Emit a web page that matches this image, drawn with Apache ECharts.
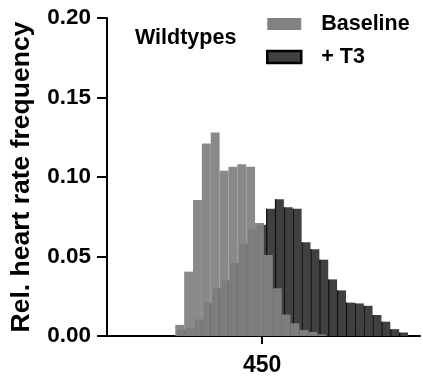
<!DOCTYPE html>
<html>
<head>
<meta charset="utf-8">
<script src="https://cdn.jsdelivr.net/npm/echarts@6/dist/echarts.min.js"></script>
<style>html,body{margin:0;padding:0;background:#fff;}#c{width:423px;height:377px;}</style>
</head>
<body>
<div id="c"></div>
<script>
// Histogram bins (left edges, bpm) and bin width
const binWidth = 10;
const baselineBins = [352, 362, 372, 382, 392, 402, 412, 422, 432, 442, 452, 462, 472, 482, 492, 502, 512];
const baselineFreq = [0.007, 0.0405, 0.0855, 0.121, 0.128, 0.104, 0.1065, 0.108, 0.1065, 0.071, 0.051, 0.030, 0.0135, 0.008, 0.0038, 0.0025, 0.001];
const t3Bins = [354.5, 364.5, 374.5, 384.5, 394.5, 404.5, 414.5, 424.5, 434.5, 444.5, 454.5, 464.5, 474.5, 484.5, 494.5, 504.5, 514.5, 524.5, 534.5, 544.5, 554.5, 564.5, 574.5, 584.5, 594.5, 604.5];
const t3Freq = [0.004, 0.005, 0.0105, 0.021, 0.030, 0.035, 0.046, 0.058, 0.067, 0.070, 0.080, 0.086, 0.081, 0.080, 0.059, 0.0545, 0.048, 0.0356, 0.0287, 0.021, 0.0205, 0.019, 0.0132, 0.009, 0.0043, 0.0022];
const xTickValues = [450];
const yTickLabels = ['0.00', '0.05', '0.10', '0.15', '0.20'];
const seriesNames = ['Baseline', '+ T3'];
const groupLabel = 'Wildtypes';
const yAxisTitle = 'Rel. heart rate frequency';

const FONT = "'Liberation Sans', Arial, sans-serif";
const baseColor = '#828282';
const t3Color = '#404040';

function toData(bins, freq) {
  return bins.map((b, i) => [b, b + binWidth, freq[i]]);
}

function makeRender(isDark) {
  return function (params, api) {
    const x0 = api.value(0), x1 = api.value(1), v = api.value(2);
    const p0 = api.coord([x0, 0]);
    const p1 = api.coord([x1, v]);
    const rect = {
      type: 'rect',
      shape: { x: p0[0], y: p1[1], width: p1[0] - p0[0], height: p0[1] - p1[1] },
      style: { fill: isDark ? t3Color : baseColor, opacity: isDark ? 1 : 0.94 }
    };
    if (!isDark) return rect;
    return {
      type: 'group',
      children: [
        rect,
        { type: 'line', shape: { x1: p0[0] + 0.5, y1: p1[1], x2: p0[0] + 0.5, y2: p0[1] }, style: { stroke: '#111', lineWidth: 1.3 } }
      ]
    };
  };
}

const chart = echarts.init(document.getElementById('c'), null, { renderer: 'canvas' });
chart.setOption({
  animation: false,
  backgroundColor: '#fff',
  textStyle: { fontFamily: FONT },
  grid: { left: 107, right: 3, top: 18, bottom: 41, containLabel: false },
  title: {
    text: groupLabel, left: 135, top: 27, padding: 0,
    textStyle: { fontFamily: FONT, fontWeight: 'bold', fontSize: 21.5, color: '#000' }
  },
  legend: {
    orient: 'vertical', left: 266, top: 13, padding: 0, itemWidth: 34, itemHeight: 12, itemGap: 11,
    textStyle: { fontFamily: FONT, fontWeight: 'bold', fontSize: 21.5, color: '#000', lineHeight: 22, padding: [0, 0, 0, 15] },
    data: [
      { name: seriesNames[0], icon: 'rect', itemStyle: { color: baseColor, borderWidth: 0 } },
      { name: seriesNames[1], icon: 'rect', itemStyle: { color: t3Color, borderColor: '#000', borderWidth: 2.5 } }
    ]
  },
  xAxis: {
    type: 'value', min: 275, max: 628,
    axisLine: { show: true, onZero: false, lineStyle: { color: '#000', width: 2 } },
    axisTick: { show: true, customValues: xTickValues, length: 8, lineStyle: { color: '#000', width: 2 } },
    axisLabel: { show: true, customValues: xTickValues, margin: 18, color: '#000', fontFamily: FONT, fontWeight: 'bold', fontSize: 23 },
    splitLine: { show: false }
  },
  yAxis: {
    type: 'value', min: 0, max: 0.2, interval: 0.05,
    name: yAxisTitle, nameLocation: 'middle', nameRotate: 90, nameGap: 72,
    nameTextStyle: { fontFamily: FONT, fontWeight: 'bold', fontSize: 26.5, color: '#000' },
    axisLine: { show: true, lineStyle: { color: '#000', width: 2 } },
    axisTick: { show: true, length: 10, lineStyle: { color: '#000', width: 2 } },
    axisLabel: {
      margin: 16, color: '#000', fontFamily: FONT, fontWeight: 'bold', fontSize: 22.5,
      formatter: (v) => yTickLabels[Math.round(v / 0.05)]
    },
    splitLine: { show: false }
  },
  series: [
    { name: seriesNames[1], type: 'custom', z: 1, itemStyle: { color: t3Color }, renderItem: makeRender(true), data: toData(t3Bins, t3Freq), encode: { x: [0, 1], y: 2 } },
    { name: seriesNames[0], type: 'custom', z: 2, itemStyle: { color: baseColor }, renderItem: makeRender(false), data: toData(baselineBins, baselineFreq), encode: { x: [0, 1], y: 2 } }
  ]
});
</script>
</body>
</html>
